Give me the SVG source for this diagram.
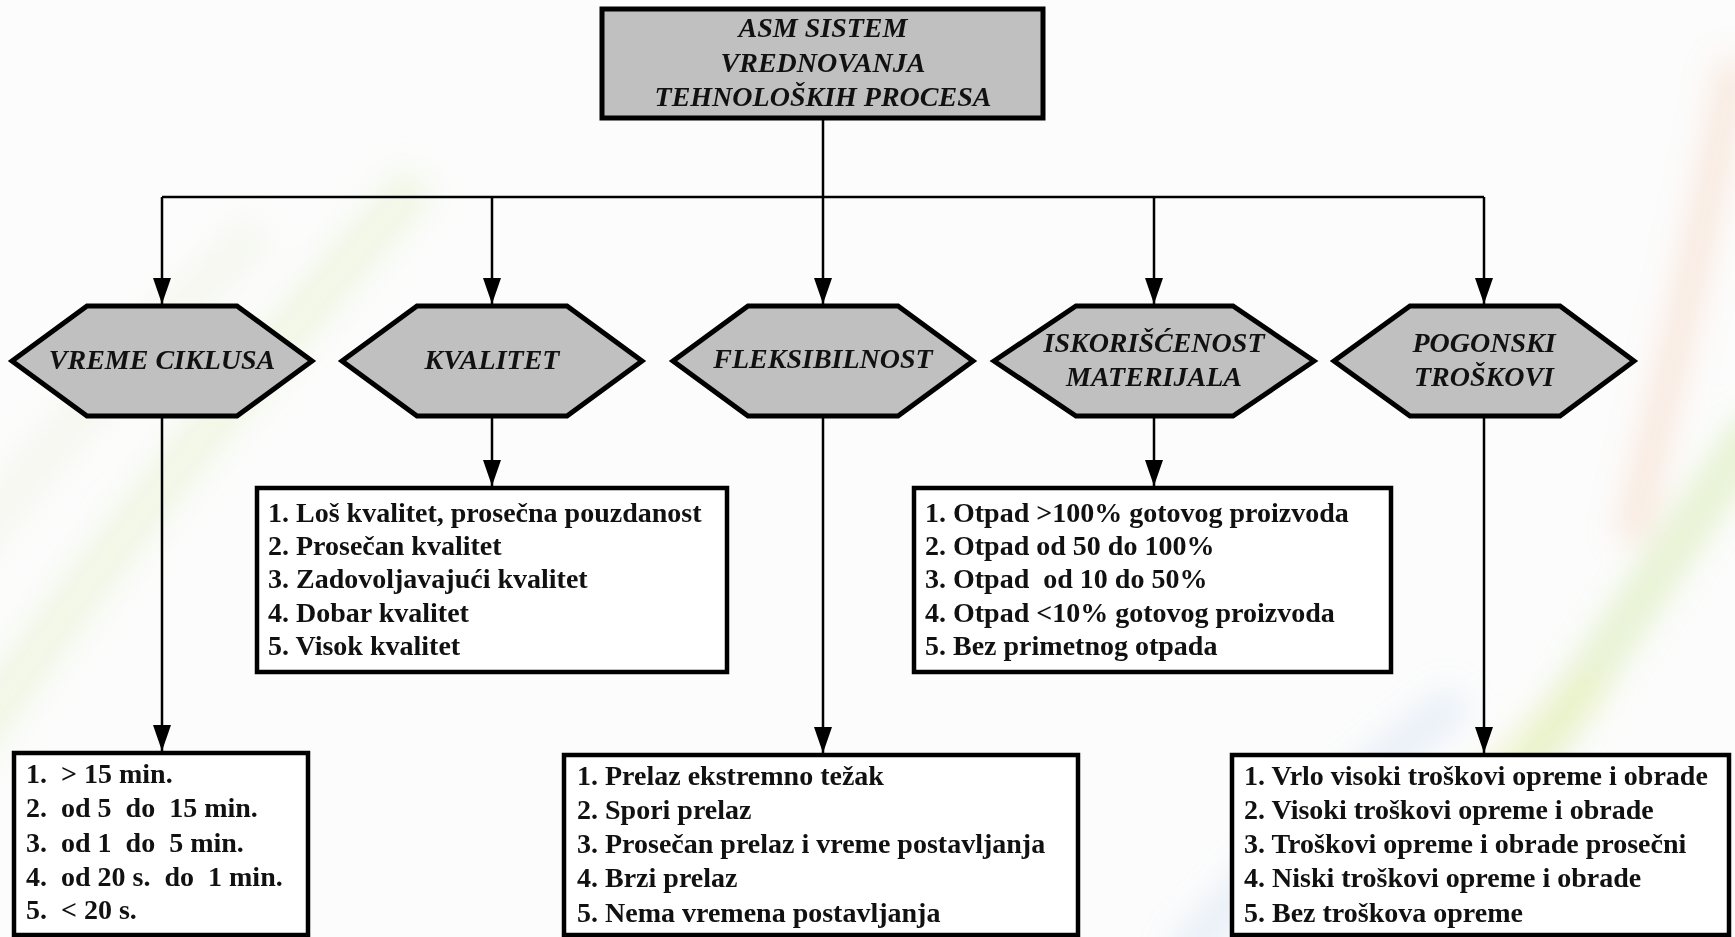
<svg xmlns="http://www.w3.org/2000/svg" width="1735" height="937" viewBox="0 0 1735 937">
  <style>
    .hdr { font-family: "Liberation Serif", "Times New Roman", serif; font-weight: bold; font-style: italic; font-size: 28px; fill: #111; text-anchor: middle; }
    .lst { font-family: "Liberation Serif", "Times New Roman", serif; font-weight: bold; font-size: 28px; fill: #111; white-space: pre; }
    .gray { fill: #c0c0c0; stroke: #000; stroke-width: 5; stroke-linejoin: miter; }
    .box { fill: #ffffff; stroke: #000; stroke-width: 4.5; }
    .con { stroke: #000; stroke-width: 2.5; fill: none; }
    .arr { marker-end: url(#ah); }
  </style>
  <defs>
    <marker id="ah" markerUnits="userSpaceOnUse" markerWidth="26" markerHeight="18" refX="26" refY="9" orient="auto">
      <path d="M0,0 L26,9 L0,18 Z" fill="#000"/>
    </marker>
    <filter id="blur" x="-50%" y="-50%" width="200%" height="200%">
      <feGaussianBlur stdDeviation="16"/>
    </filter>
  </defs>

  <g id="background">
    <rect x="0" y="0" width="1735" height="937" fill="#fcfcfc"/>
    <g filter="url(#blur)" fill="none">
      <path d="M-40 760 Q 160 470 420 180" stroke="#d6ebb0" stroke-width="45" opacity="0.3"/>
      <path d="M-40 560 Q 100 380 260 230" stroke="#e8f0d0" stroke-width="40" opacity="0.3"/>
      <path d="M1735 60 Q 1690 300 1630 540" stroke="#f2b48a" stroke-width="28" opacity="0.3"/>
      <path d="M1400 960 Q 1560 720 1760 420" stroke="#b9df7a" stroke-width="40" opacity="0.35"/>
      <path d="M1300 960 Q 1430 820 1600 680" stroke="#eef0a0" stroke-width="30" opacity="0.3"/>
      <path d="M1180 960 Q 1300 820 1460 700" stroke="#a9cdea" stroke-width="35" opacity="0.25"/>
    </g>
  </g>

  <g id="connectors">
    <line class="con" x1="823" y1="119" x2="823" y2="197"/>
    <line class="con" x1="162" y1="197" x2="1484" y2="197"/>
    <line class="con arr" x1="162" y1="197" x2="162" y2="304"/>
    <line class="con arr" x1="492" y1="197" x2="492" y2="304"/>
    <line class="con arr" x1="823" y1="197" x2="823" y2="304"/>
    <line class="con arr" x1="1154" y1="197" x2="1154" y2="304"/>
    <line class="con arr" x1="1484" y1="197" x2="1484" y2="304"/>
    <line class="con arr" x1="162" y1="418" x2="162" y2="751"/>
    <line class="con arr" x1="492" y1="418" x2="492" y2="486"/>
    <line class="con arr" x1="823" y1="418" x2="823" y2="753"/>
    <line class="con arr" x1="1154" y1="418" x2="1154" y2="486"/>
    <line class="con arr" x1="1484" y1="418" x2="1484" y2="753"/>
  </g>

  <g id="root">
    <rect class="gray" x="602" y="9" width="441" height="109"/>
    <text class="hdr" x="823" y="37">ASM SISTEM</text>
    <text class="hdr" x="823" y="72">VREDNOVANJA</text>
    <text class="hdr" x="823" y="106">TEHNOLOŠKIH PROCESA</text>
  </g>

  <g id="vreme-ciklusa">
    <polygon class="gray" points="12,361 87,306 237,306 312,361 237,416 87,416"/>
    <text class="hdr" x="162" y="369">VREME CIKLUSA</text>
  </g>
  <g id="kvalitet">
    <polygon class="gray" points="342,361 417,306 567,306 642,361 567,416 417,416"/>
    <text class="hdr" x="492" y="369">KVALITET</text>
  </g>
  <g id="fleksibilnost">
    <polygon class="gray" points="673,361 748,306 898,306 973,361 898,416 748,416"/>
    <text class="hdr" x="823" y="368">FLEKSIBILNOST</text>
  </g>
  <g id="iskoriscenost">
    <polygon class="gray" points="994,361 1076,306 1233,306 1314,361 1233,416 1076,416"/>
    <text class="hdr" x="1154" y="352">ISKORIŠĆENOST</text>
    <text class="hdr" x="1154" y="386">MATERIJALA</text>
  </g>
  <g id="pogonski-troskovi">
    <polygon class="gray" points="1334,361 1410,306 1560,306 1634,361 1560,416 1410,416"/>
    <text class="hdr" x="1484" y="352">POGONSKI</text>
    <text class="hdr" x="1484" y="386">TROŠKOVI</text>
  </g>

  <g id="kvalitet-lista">
    <rect class="box" x="257" y="488" width="470" height="184"/>
    <text class="lst" x="268" y="522" xml:space="preserve">1. Loš kvalitet, prosečna pouzdanost</text>
    <text class="lst" x="268" y="555" xml:space="preserve">2. Prosečan kvalitet</text>
    <text class="lst" x="268" y="588" xml:space="preserve">3. Zadovoljavajući kvalitet</text>
    <text class="lst" x="268" y="622" xml:space="preserve">4. Dobar kvalitet</text>
    <text class="lst" x="268" y="655" xml:space="preserve">5. Visok kvalitet</text>
  </g>

  <g id="otpad-lista">
    <rect class="box" x="914" y="488" width="477" height="184"/>
    <text class="lst" x="925" y="522" xml:space="preserve">1. Otpad &gt;100% gotovog proizvoda</text>
    <text class="lst" x="925" y="555" xml:space="preserve">2. Otpad od 50 do 100%</text>
    <text class="lst" x="925" y="588" xml:space="preserve">3. Otpad  od 10 do 50%</text>
    <text class="lst" x="925" y="622" xml:space="preserve">4. Otpad &lt;10% gotovog proizvoda</text>
    <text class="lst" x="925" y="655" xml:space="preserve">5. Bez primetnog otpada</text>
  </g>

  <g id="vreme-lista">
    <rect class="box" x="14" y="753" width="294" height="182"/>
    <text class="lst" x="26" y="783" xml:space="preserve">1.  &gt; 15 min.</text>
    <text class="lst" x="26" y="817" xml:space="preserve">2.  od 5  do  15 min.</text>
    <text class="lst" x="26" y="852" xml:space="preserve">3.  od 1  do  5 min.</text>
    <text class="lst" x="26" y="886" xml:space="preserve">4.  od 20 s.  do  1 min.</text>
    <text class="lst" x="26" y="919" xml:space="preserve">5.  &lt; 20 s.</text>
  </g>

  <g id="prelaz-lista">
    <rect class="box" x="564" y="755" width="514" height="180"/>
    <text class="lst" x="577" y="785" xml:space="preserve">1. Prelaz ekstremno težak</text>
    <text class="lst" x="577" y="819" xml:space="preserve">2. Spori prelaz</text>
    <text class="lst" x="577" y="853" xml:space="preserve">3. Prosečan prelaz i vreme postavljanja</text>
    <text class="lst" x="577" y="887" xml:space="preserve">4. Brzi prelaz</text>
    <text class="lst" x="577" y="922" xml:space="preserve">5. Nema vremena postavljanja</text>
  </g>

  <g id="troskovi-lista">
    <rect class="box" x="1232" y="755" width="497" height="180"/>
    <text class="lst" x="1244" y="785" xml:space="preserve">1. Vrlo visoki troškovi opreme i obrade</text>
    <text class="lst" x="1244" y="819" xml:space="preserve">2. Visoki troškovi opreme i obrade</text>
    <text class="lst" x="1244" y="853" xml:space="preserve">3. Troškovi opreme i obrade prosečni</text>
    <text class="lst" x="1244" y="887" xml:space="preserve">4. Niski troškovi opreme i obrade</text>
    <text class="lst" x="1244" y="922" xml:space="preserve">5. Bez troškova opreme</text>
  </g>
</svg>
